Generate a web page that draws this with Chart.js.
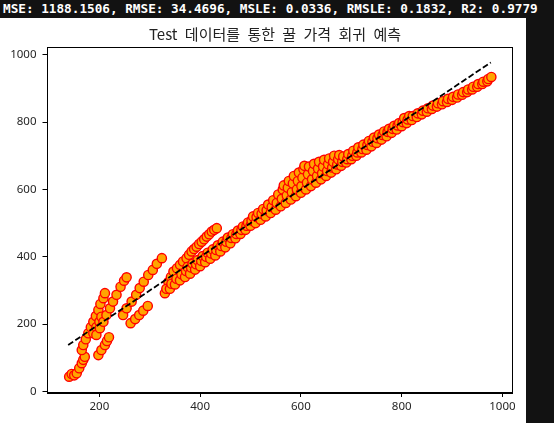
<!DOCTYPE html>
<html>
<head>
<meta charset="utf-8">
<script src="https://cdn.jsdelivr.net/npm/chart.js@4.4.0/dist/chart.umd.min.js"></script>
<style>
  html, body { margin: 0; padding: 0; background: #121212; width: 554px; height: 423px; overflow: hidden; }
  #metrics {
    position: absolute; left: 0; top: 0; height: 18px; line-height: 18px; padding-left: 3px;
    color: #fff; font-family: "DejaVu Sans Mono", monospace; font-size: 12.7px; font-weight: bold; white-space: pre;
  }
  #panel { position: absolute; left: 0; top: 18px; width: 526px; height: 405px; background: #fff; }
  #title {
    position: absolute; left: 0; top: 7px; width: 550px; text-align: center;
    font-family: "Noto Sans CJK KR", sans-serif; font-size: 15px; line-height: 18px; color: #222; word-spacing: 4px;
  }
  canvas { position: absolute; left: 0; top: 0; }
</style>
</head>
<body>
<div id="metrics"></div>
<div id="panel">
  <canvas id="chart" width="526" height="405"></canvas>
  <div id="title"></div>
</div>
<script>
// header + title text
const METRICS = 'MSE: 1188.1506, RMSE: 34.4696, MSLE: 0.0336, RMSLE: 0.1832, R2: 0.9779';
const TITLE = 'Test 데이터를 통한 꿀 가격 회귀 예측';

// axis ticks / limits
const X_TICKS = [200, 400, 600, 800, 1000];
const Y_TICKS = [0, 200, 400, 600, 800, 1000];
const X_RANGE = [96, 1019];
const Y_RANGE = [-3, 1023];

// y = x reference line (min..max of actual prices)
const FIT_LINE = [138, 977];

// [actual, predicted] - low price streaks
const streakLow = [[140,44],[145,52],[150,48],[155,54],[160,69],[165,84],[168,94],[171,103]];
const streakLeft = [[165,123],[168,138],[173,155],[178,173],[183,191],[188,207],[193,224],[198,242],[202,260],[208,277],[211,292],
                    [188,173],[194,191],[200,207],[204,222]];
const streakShort = [[198,108],[204,123],[211,138],[215,150],[219,161]];
const streakMid = [[194,168],[201,188],[208,207],[214,227],[221,247],[227,267],[234,287],[242,311],[249,329],[254,339]];
const streakRight = [[247,227],[254,247],[264,267],[273,287],[280,307],[288,326],[297,346],[306,361],[314,379],[324,396]];
const streakLower = [[262,203],[271,215],[279,227],[287,240],[296,254]];
const streakUpper = [[337,325],[342,340],[347,356],[354,366],[360,376],[366,386],[373,396],[378,406],[383,416],
                     [388,423],[393,430],[398,438],[403,445],[408,452],[413,460],[418,467],[423,475],[428,480],[433,485]];

// [actual, predicted] - main band, low / mid / high part
const bandLow = [
  [330,292],[333,305],[340,305],[343,320],[350,318],[353,335],[360,330],[363,348],
  [370,340],[372,358],[375,370],[380,350],[382,368],[385,380],[390,362],[392,378],[395,390],
  [400,372],[402,388],[405,402],[410,384],[412,400],[415,412],[420,394],[422,410],[425,422],
  [430,404],[432,420],[435,434],[440,416],[442,432],[445,445],[450,428],[452,445],[455,457],
  [460,440],[462,456],[465,467],[470,455],[472,468],[475,478],[480,468],[482,480],[485,490],
  [490,480],[492,492],[495,502]
];
const bandMid = [
  [500,492],[502,508],[505,520],[510,500],[512,518],[515,530],[520,510],[522,528],[525,542],
  [530,520],[532,538],[535,555],[540,530],[542,548],[545,568],[550,540],[552,560],[555,585],
  [560,550],[562,572],[564,600],[566,612],[570,560],[572,582],[574,605],[576,625],
  [580,570],[582,592],[584,618],[586,640],[590,580],[592,600],[594,625],[596,650],
  [600,590],[601,610],[603,635],[605,660],[607,670],[610,600],[612,620],[614,645],[616,668],
  [620,610],[622,630],[624,655],[626,676],[630,620],[632,640],[634,662],[636,682],
  [640,630],[642,648],[644,668],[646,688],[650,640],[652,655],[654,675],[656,692],
  [660,650],[662,665],[664,682],[666,700],[670,660],[672,674],[674,690],[676,702],
  [680,670],[682,682],[684,698],[690,680],[692,690],[694,705],[700,690],[702,700],[704,715],
  [710,700],[712,710],[714,725],[720,710],[722,720],[724,733]
];
const bandHigh = [
  [730,718],[732,732],[735,744],[740,728],[742,742],[745,754],[750,738],[752,752],[755,763],
  [760,748],[762,762],[765,772],[770,758],[772,771],[775,780],[780,768],[782,780],[785,789],
  [790,778],[792,790],[795,797],[800,788],[802,800],[805,812],[810,797],[812,808],[815,818],
  [820,806],[822,818],[830,815],[832,826],[840,823],[842,834],[850,831],[852,841],
  [860,839],[862,849],[870,846],[872,856],[880,853],[882,862],[890,860],[892,869],
  [900,866],[902,875],[910,873],[912,882],[920,881],[922,889],[930,889],[932,897],
  [940,897],[942,905],[950,905],[952,913],[960,913],[962,920],[970,921],[972,928],[978,934]
];

document.getElementById('metrics').textContent = METRICS;
document.getElementById('title').textContent = TITLE;

const allPoints = [].concat(streakLow, streakLeft, streakShort, streakMid, streakRight, streakLower,
                            streakUpper, bandLow, bandMid, bandHigh)
  .map(p => ({x: p[0], y: p[1]}));

// full frame round the plot area (matplotlib style spines)
const framePlugin = {
  id: 'frame',
  afterDraw(chart) {
    const a = chart.chartArea;
    const c = chart.ctx;
    c.save();
    c.strokeStyle = '#000';
    c.lineWidth = 1;
    c.strokeRect(Math.round(a.left) + 0.5, Math.round(a.top) + 0.5,
                 Math.round(a.right - a.left), Math.round(a.bottom - a.top));
    c.restore();
  }
};

const tickFont = {family: 'Noto Sans', size: 11.5};

const ctx = document.getElementById('chart').getContext('2d');
new Chart(ctx, {
  type: 'scatter',
  data: {
    datasets: [{
      type: 'line',
      data: [{x: FIT_LINE[0], y: FIT_LINE[0]}, {x: FIT_LINE[1], y: FIT_LINE[1]}],
      borderColor: '#000',
      borderWidth: 1.8,
      borderDash: [6, 2.6],
      pointRadius: 0,
      fill: false,
      order: 0
    }, {
      data: allPoints,
      backgroundColor: 'orange',
      borderColor: 'red',
      borderWidth: 1.4,
      pointRadius: 4.6,
      order: 1
    }]
  },
  options: {
    responsive: false,
    animation: false,
    events: [],
    layout: {padding: {left: 0, right: 14, top: 29, bottom: 0}},
    plugins: {legend: {display: false}, tooltip: {enabled: false}},
    scales: {
      x: {
        type: 'linear',
        min: X_RANGE[0],
        max: X_RANGE[1],
        afterBuildTicks: s => { s.ticks = X_TICKS.map(v => ({value: v})); },
        afterFit: s => { s.height = 30.5; },
        grid: {display: true, drawOnChartArea: false, drawTicks: true, tickLength: 4.5, color: '#000', lineWidth: 1},
        border: {display: true, color: '#000', width: 1},
        ticks: {font: tickFont, color: '#262626', padding: 3, maxRotation: 0, autoSkip: false, callback: v => String(v)}
      },
      y: {
        type: 'linear',
        min: Y_RANGE[0],
        max: Y_RANGE[1],
        afterBuildTicks: s => { s.ticks = Y_TICKS.map(v => ({value: v})); },
        afterFit: s => { s.width = 47; },
        grid: {display: true, drawOnChartArea: false, drawTicks: true, tickLength: 4.5, color: '#000', lineWidth: 1},
        border: {display: true, color: '#000', width: 1},
        ticks: {font: tickFont, color: '#262626', padding: 6, autoSkip: false, callback: v => String(v)}
      }
    }
  },
  plugins: [framePlugin]
});
</script>
</body>
</html>
